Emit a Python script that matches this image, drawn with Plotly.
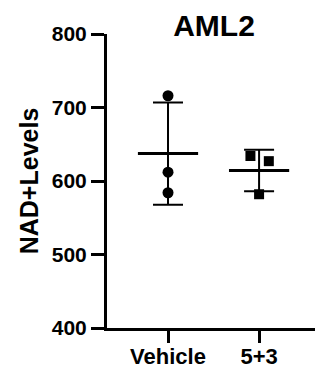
import numpy as np
import plotly.graph_objects as go

# ---- data ----
groups = ["Vehicle", "5+3"]
vehicle_vals = [716, 612, 584]
treat_vals = [634, 627, 582]
treat_jitter = [-0.095, 0.107, 0.0]
vehicle_jitter = [0.0, 0.0, 0.0]
y_ticks = [400, 500, 600, 700, 800]
title_text = "AML2"
y_title = "NAD+Levels"

FONT = "Arial, Liberation Sans, Helvetica, sans-serif"

# the page body has an 8px default margin; size the figure to fit the window
W, H = 315, 362

fig = go.Figure()

series = [
    (vehicle_vals, vehicle_jitter, "circle", 11),
    (treat_vals, treat_jitter, "square", 10),
]

for i, (vals, jit, sym, sz) in enumerate(series):
    vals = np.array(vals, dtype=float)
    mean = vals.mean()
    sd = vals.std(ddof=1)
    # individual points
    fig.add_trace(go.Scatter(
        x=[i + j for j in jit], y=vals, mode="markers",
        marker=dict(symbol=sym, size=sz, color="black", line=dict(width=0)),
        showlegend=False, hoverinfo="y"))
    # mean line + SD error bars
    fig.add_trace(go.Scatter(
        x=[i], y=[mean], mode="markers",
        marker=dict(symbol="line-ew", size=43, color="black",
                    line=dict(width=3, color="black")),
        error_y=dict(type="data", array=[sd], visible=True,
                     color="black", thickness=2, width=15),
        showlegend=False, hoverinfo="y"))

fig.update_layout(
    width=W, height=H,
    margin=dict(l=99, r=2, t=26, b=42, autoexpand=False),
    paper_bgcolor="white", plot_bgcolor="white",
    font=dict(family=FONT, color="black"),
    title=dict(text=title_text, font=dict(size=30, weight="bold", family=FONT),
               x=0.5, xref="paper", xanchor="center",
               y=1 - 17 / H, yref="container", yanchor="middle",
               automargin=False),
)

fig.update_xaxes(
    range=[-0.67, 1.68], tickvals=[0, 1], ticktext=groups,
    showline=True, linewidth=3, linecolor="black",
    ticks="outside", ticklen=12, tickwidth=3, tickcolor="black",
    tickfont=dict(size=22, weight="bold", family=FONT),
    ticklabelstandoff=-5,
    showgrid=False, zeroline=False, automargin=False)

fig.update_yaxes(
    range=[400, 800], tickvals=y_ticks,
    showline=True, linewidth=3, linecolor="black",
    ticks="outside", ticklen=13, tickwidth=3, tickcolor="black",
    tickfont=dict(size=21, weight="bold", family=FONT),
    title=dict(text=y_title, font=dict(size=25, weight="bold", family=FONT), standoff=7),
    showgrid=False, zeroline=False, automargin=False)

fig.write_html("out.html")
